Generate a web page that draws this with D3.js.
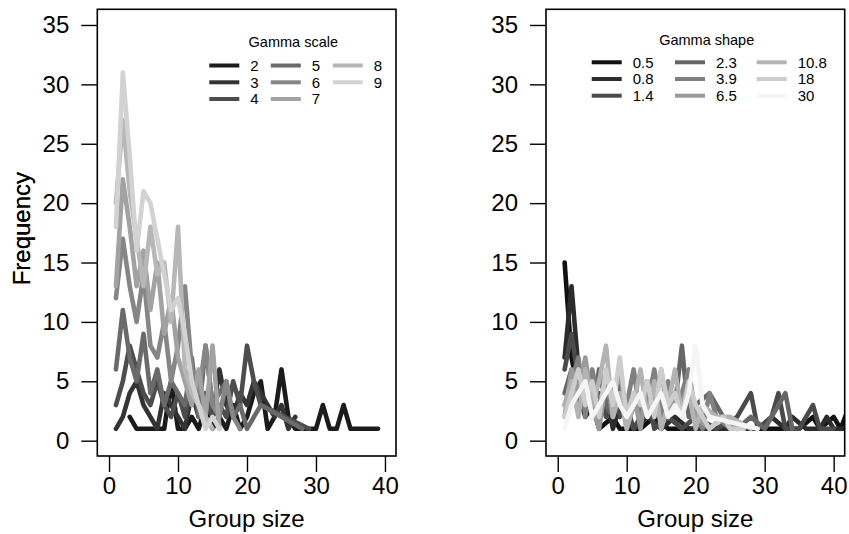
<!DOCTYPE html>
<html>
<head>
<meta charset="utf-8">
<script src="https://cdn.jsdelivr.net/npm/d3@7"></script>
<style>
  body { margin: 0; background: white; }
  svg text { font-family: "Liberation Sans", Arial, Helvetica, sans-serif; }
</style>
</head>
<body>
<div id="chart"></div>
<script>
// group size -> frequency, one array per gamma scale
const scale2 = [[3,2],[4,1],[7,1],[8,1],[9,5],[10,1],[11,1],[12,2],[13,1],[14,3],[15,1],[16,2],[17,1],[18,3],[19,1],[20,2],[21,4],[22,5],[23,1],[24,2],[25,6],[26,2],[27,1],[30,1],[31,3],[32,1],[33,1],[34,3],[35,1],[39,1]];
const scale3 = [[1,1],[2,2],[3,4],[4,5],[5,3],[6,2],[7,1],[8,4],[9,3],[10,2],[11,1],[12,4],[13,2],[14,3],[15,2],[16,6],[17,3],[18,2],[19,4],[20,3],[21,5],[22,4],[23,3],[24,2],[25,3],[26,1],[27,2]];
const scale4 = [[1,3],[2,5],[3,8],[4,6],[5,4],[6,3],[7,5],[8,3],[9,2],[10,4],[11,2],[12,5],[13,3],[14,4],[15,2],[16,3],[17,2],[18,5],[19,3],[20,8],[21,5],[22,3],[29,1]];
const scale5 = [[1,6],[2,11],[3,7],[4,5],[5,9],[6,4],[7,6],[8,3],[9,5],[10,4],[11,3],[12,7],[13,2],[14,8],[15,3],[16,4],[17,5],[18,2],[19,3],[20,1],[22,3],[28,1]];
const scale6 = [[1,12],[2,17],[3,13],[4,10],[5,14],[6,8],[7,7],[8,10],[9,5],[10,8],[11,13],[12,6],[13,4],[14,8],[15,3],[16,2],[17,5],[18,2],[19,1]];
const scale7 = [[1,13],[2,22],[3,18],[4,13],[5,16],[6,11],[7,15],[8,9],[9,12],[10,7],[11,5],[12,3],[13,6],[14,2],[15,8],[16,1]];
const scale8 = [[1,20],[2,27],[3,21],[4,17],[5,13],[6,18],[7,14],[8,15],[9,10],[10,18],[11,6],[12,4],[13,3],[14,2],[15,1]];
const scale9 = [[1,18],[2,31],[3,24],[4,16],[5,21],[6,20],[7,17],[8,14],[9,11],[10,12],[11,9],[12,5],[13,3],[14,1],[15,2],[16,1]];
const scaleSeries = [scale2, scale3, scale4, scale5, scale6, scale7, scale8, scale9];
const scaleLabels = ["2", "3", "4", "5", "6", "7", "8", "9"];

// group size -> frequency, one array per gamma shape
const shape05 = [[1,15],[2,7],[3,4],[4,2],[5,3],[6,1],[8,2],[9,1],[10,1],[12,1],[14,2],[16,1],[18,1],[20,1],[22,1],[25,1],[28,1],[30,1],[33,1],[35,1],[37,2],[38,1],[40,2],[41,1],[43,4]];
const shape08 = [[1,7],[2,13],[3,6],[4,3],[5,5],[6,2],[7,4],[8,1],[9,3],[10,2],[11,1],[13,2],[15,1],[17,2],[19,1],[21,1],[24,1],[26,1],[27,1],[29,1],[31,2],[33,1],[34,2],[36,1],[38,1],[39,2],[40,1],[42,1]];
const shape14 = [[1,6],[2,9],[3,5],[4,6],[5,3],[6,4],[7,2],[8,5],[9,2],[10,3],[11,1],[12,2],[13,4],[14,1],[16,2],[18,1],[20,2],[23,1],[26,2],[28,4],[29,1],[31,2],[32,4],[33,1],[35,1],[36,2],[37,3],[38,1],[40,1]];
const shape23 = [[1,4],[2,6],[3,3],[4,5],[5,2],[6,6],[7,3],[8,2],[9,5],[10,1],[11,3],[12,2],[13,5],[14,2],[15,4],[17,3],[18,8],[19,2],[20,3],[22,4],[24,2],[26,1],[28,2],[30,1],[32,3],[33,4],[34,1]];
const shape39 = [[1,3],[2,5],[3,7],[4,2],[5,6],[6,3],[7,5],[8,2],[9,4],[10,3],[11,6],[12,2],[13,3],[14,6],[15,2],[16,5],[17,3],[18,4],[19,6],[20,2],[21,1],[22,4],[23,2],[25,1],[27,1]];
const shape65 = [[1,2],[2,6],[3,4],[4,7],[5,3],[6,1],[7,5],[8,3],[9,6],[10,2],[11,4],[12,1],[13,5],[14,3],[15,6],[16,2],[17,4],[18,3],[19,5],[20,2],[22,1],[24,2],[26,1]];
const shape108 = [[1,3],[2,5],[3,2],[4,6],[5,3],[6,5],[7,8],[8,2],[9,4],[10,1],[11,3],[12,6],[13,2],[14,5],[15,1],[16,3],[17,6],[18,2],[19,4],[20,1],[21,3],[23,2],[25,2],[28,1]];
const shape18 = [[1,2],[2,4],[3,6],[4,3],[5,5],[6,2],[7,6],[8,3],[9,7],[10,2],[11,4],[12,3],[13,5],[14,2],[15,6],[16,3],[17,4],[18,2],[19,5],[20,3],[21,2],[22,1],[24,2],[25,1],[27,1]];
const shape30 = [[1,1],[2,3],[3,4],[4,5],[5,2],[6,3],[7,4],[8,5],[9,3],[10,2],[11,3],[12,4],[13,2],[14,3],[15,4],[16,2],[17,3],[18,2],[19,4],[20,8],[21,3],[22,2],[29,1]];
const shapeSeries = [shape05, shape08, shape14, shape23, shape39, shape65, shape108, shape18, shape30];
const shapeLabels = ["0.5", "0.8", "1.4", "2.3", "3.9", "6.5", "10.8", "18", "30"];

const xTicks = [0, 10, 20, 30, 40];
const yTicks = [0, 5, 10, 15, 20, 25, 30, 35];

const scaleColors = ["#1b1b1b", "#333333", "#4d4d4d", "#6a6a6a", "#868686", "#a2a2a2", "#b7b7b7", "#d2d2d2"];
const shapeColors = ["#111111", "#2c2c2c", "#4a4a4a", "#666666", "#808080", "#9a9a9a", "#b3b3b3", "#cdcdcd", "#f5f5f5"];

const W = 849, H = 534;
const box = {top: 9.3, height: 446.7, width: 298.7};

const svg = d3.select("#chart")
  .append("svg")
  .attr("width", W)
  .attr("height", H);

function drawPanel(left, series, labels, colors, title, leg, id) {
  const g = svg.append("g")
    .attr("transform", `translate(${left},${box.top})`);

  const x = d3.scaleLinear().domain([-1.7, 41.6]).range([0, box.width]);
  const y = d3.scaleLinear().domain([-1.29, 36.32]).range([box.height, 0]);

  g.append("clipPath").attr("id", id)
    .append("rect")
    .attr("width", box.width)
    .attr("height", box.height);

  const line = d3.line()
    .x(d => x(d[0]))
    .y(d => y(d[1]));

  g.append("g")
    .attr("clip-path", `url(#${id})`)
    .selectAll("path")
    .data(series)
    .join("path")
    .attr("fill", "none")
    .attr("stroke", (d, i) => colors[i])
    .attr("stroke-width", 4.6)
    .attr("stroke-linejoin", "round")
    .attr("stroke-linecap", "round")
    .attr("d", line);

  // box
  g.append("rect")
    .attr("width", box.width)
    .attr("height", box.height)
    .attr("fill", "none")
    .attr("stroke", "black")
    .attr("stroke-width", 1.6);

  // axes
  const xAxis = g.append("g")
    .attr("transform", `translate(0,${box.height})`)
    .call(d3.axisBottom(x).tickValues(xTicks).tickSize(16).tickPadding(5));
  const yAxis = g.append("g")
    .call(d3.axisLeft(y).tickValues(yTicks).tickSize(16).tickPadding(12));
  [xAxis, yAxis].forEach(a => {
    a.select(".domain").remove();
    a.selectAll("line").attr("stroke", "black").attr("stroke-width", 1.4);
    a.selectAll("text")
      .style("font-family", "Liberation Sans, Arial, sans-serif")
      .style("font-size", "24px")
      .attr("fill", "black");
  });

  g.append("text")
    .attr("x", box.width / 2)
    .attr("y", 518)
    .style("text-anchor", "middle")
    .style("font-size", "24px")
    .text("Group size");

  g.append("text")
    .attr("transform", `translate(${-left + 30},${box.height / 2 - 4}) rotate(-90)`)
    .style("text-anchor", "middle")
    .style("font-size", "24px")
    .text("Frequency");

  // legend
  g.append("text")
    .attr("x", leg.titleX)
    .attr("y", leg.titleY)
    .style("text-anchor", "middle")
    .style("font-size", "14.5px")
    .text(title);

  labels.forEach((lab, i) => {
    const col = Math.floor(i / 3), row = i % 3;
    const lx = leg.colX[col], ly = leg.rowY[row];
    g.append("line")
      .attr("x1", lx).attr("x2", lx + 30)
      .attr("y1", ly).attr("y2", ly)
      .attr("stroke", colors[i])
      .attr("stroke-width", 4);
    g.append("text")
      .attr("x", lx + 41)
      .attr("y", ly + 5.5)
      .style("font-size", "15px")
      .text(lab);
  });
}

drawPanel(97.3, scaleSeries, scaleLabels, scaleColors, "Gamma scale",
  {titleX: 196, titleY: 37.5, colX: [112, 173.5, 235.5], rowY: [56.2, 73, 89.7]}, "clipL");

drawPanel(546, shapeSeries, shapeLabels, shapeColors, "Gamma shape",
  {titleX: 160.7, titleY: 35.5, colX: [45.7, 129, 210.7], rowY: [53, 69.7, 86.4]}, "clipR");
</script>
</body>
</html>
